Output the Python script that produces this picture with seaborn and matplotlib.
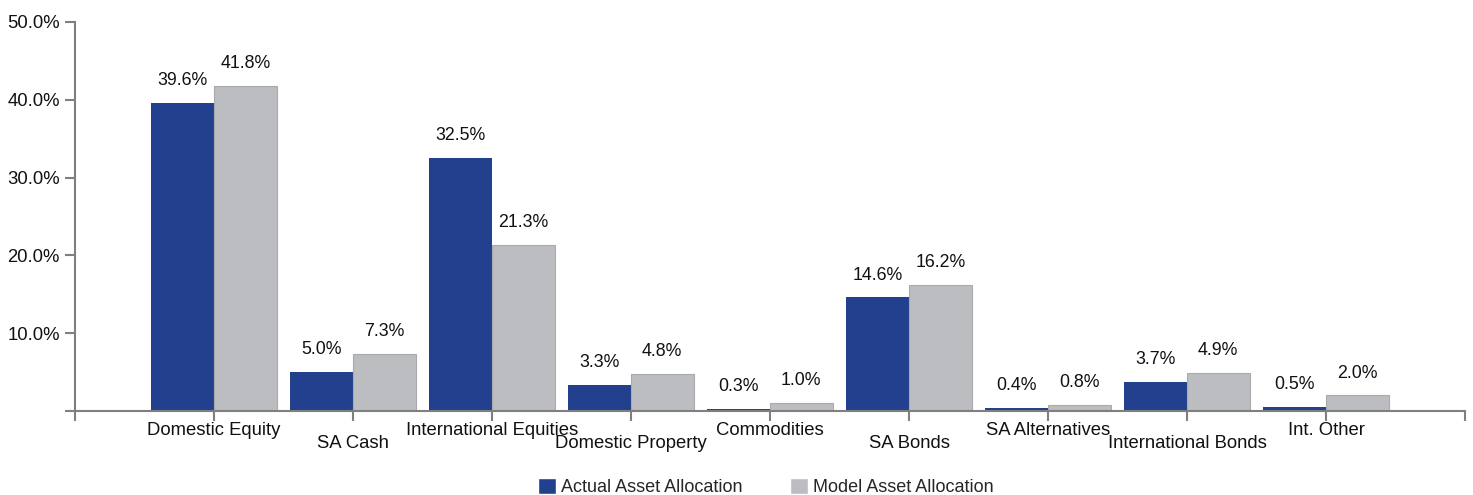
import pandas as pd
import seaborn as sns
import matplotlib.pyplot as plt
from matplotlib.ticker import FuncFormatter
from matplotlib.patches import Patch

# Asset allocation values (percent)
categories = ['Domestic Equity', 'SA Cash', 'International Equities', 'Domestic Property',
              'Commodities', 'SA Bonds', 'SA Alternatives', 'International Bonds', 'Int. Other']
actual = [39.6, 5.0, 32.5, 3.3, 0.3, 14.6, 0.4, 3.7, 0.5]
model = [41.8, 7.3, 21.3, 4.8, 1.0, 16.2, 0.8, 4.9, 2.0]
series = ['Actual Asset Allocation', 'Model Asset Allocation']

sns.set_theme(style="white")
plt.rcParams['font.family'] = ['Liberation Sans', 'DejaVu Sans']

df = pd.DataFrame({
    'Category': categories * 2,
    'Value': actual + model,
    'Series': [series[0]] * len(actual) + [series[1]] * len(model),
})

fig = plt.figure(figsize=(14.73, 4.95), dpi=100)
ax = fig.add_axes([0.0509, 0.1697, 0.9437, 0.7859])

palette = {series[0]: '#22408D', series[1]: '#BCBDC0'}
sns.barplot(data=df, x='Category', y='Value', hue='Series', palette=palette,
            width=0.9, ax=ax, saturation=1, legend=False, linewidth=0)

# thin darker outline on the model (grey) bars
for bar in ax.containers[1]:
    bar.set_edgecolor('#A9AAAD')
    bar.set_linewidth(0.8)

# value labels above bars
for cont in ax.containers:
    ax.bar_label(cont, labels=[f'{v:.1f}%' for v in cont.datavalues],
                 padding=10, fontsize=12.8, color='#111111')

ax.set_xlim(-1, len(categories))
ax.set_ylim(0, 50)
ax.set_yticks([0, 10, 20, 30, 40, 50])
ax.yaxis.set_major_formatter(FuncFormatter(lambda v, p: '' if v == 0 else f'{v:.1f}%'))
ax.set_xticks(range(-1, len(categories) + 1))
ax.set_xticklabels([''] + categories + [''])
ax.set_xlabel('')
ax.set_ylabel('')

axis_col = '#7F7F7F'
for s in ['top', 'right']:
    ax.spines[s].set_visible(False)
for s in ['left', 'bottom']:
    ax.spines[s].set_color(axis_col)
    ax.spines[s].set_linewidth(1.5)
ax.tick_params(axis='both', which='major', direction='out', length=7, width=1.5,
               color=axis_col, labelsize=13.3, labelcolor='#111111',
               bottom=True, left=True)
ax.tick_params(axis='y', pad=4)

# staggered category labels
for i, tick in enumerate(ax.xaxis.get_major_ticks()):
    tick.set_pad(1 if i % 2 == 1 else 10.5)

# legend below
handles = [Patch(facecolor=palette[s], label=s) for s in series]
fig.legend(handles=handles, loc='center', bbox_to_anchor=(0.52, 0.016), ncol=2,
           frameon=False, fontsize=13, handlelength=1.0, handleheight=1.0,
           handletextpad=0.3, columnspacing=2.6)

fig.savefig('out.png', dpi=100)
